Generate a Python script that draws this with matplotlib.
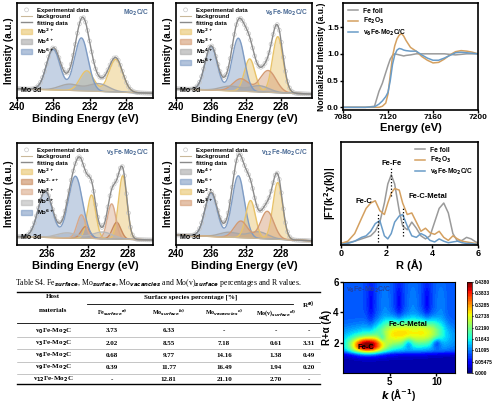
import numpy as np
import matplotlib
matplotlib.use("Agg")
import matplotlib.pyplot as plt

plt.rcParams['font.family'] = ['Liberation Sans', 'DejaVu Sans']
plt.rcParams['font.weight'] = 'bold'
plt.rcParams['axes.labelweight'] = 'bold'

# ---------------- data ----------------
xps_panels = [
    dict(name="Mo$_2$C/C", xlim=(240, 225), ticks=[240, 236, 232, 228],
         bg=(0.12, 0.06),
         comps=[("Mo$^{2+}$", "#e8c36a", [229.1, 232.3], [0.42, 0.26], 0.75),
                ("Mo$^{4+}$", "#a8a8a8", [231.0, 234.2], [0.10, 0.08], 1.1),
                ("Mo$^{6+}$", "#7f9cc4", [236.0, 232.9], [0.52, 0.68], 0.75)]),
    dict(name="v$_6$Fe-Mo$_2$C/C", xlim=(240, 224.5), ticks=[240, 236, 232, 228],
         bg=(0.12, 0.05),
         comps=[("Mo$^{2+}$", "#e8c36a", [228.4, 231.6], [0.72, 0.42], 0.6),
                ("Mo$^{3+}$", "#d39a72", [229.5, 232.6], [0.28, 0.16], 0.9),
                ("Mo$^{4+}$", "#a8a8a8", [230.5, 233.8], [0.08, 0.06], 1.1),
                ("Mo$^{6+}$", "#7f9cc4", [236.0, 232.9], [0.56, 0.68], 0.7)]),
    dict(name="v$_3$Fe-Mo$_2$C/C", xlim=(239, 225.5), ticks=[236, 232, 228],
         bg=(0.10, 0.06),
         comps=[("Mo$^{2+}$", "#e8c36a", [228.5, 231.6], [0.76, 0.52], 0.42),
                ("Mo$^{2.x+}$", "#c98a5c", [229.1, 232.2], [0.20, 0.14], 0.42),
                ("Mo$^{3+}$", "#d9a98a", [229.6, 232.6], [0.42, 0.28], 0.42),
                ("Mo$^{4+}$", "#b8b8b8", [230.5, 234.0], [0.08, 0.06], 1.0),
                ("Mo$^{6+}$", "#7f9cc4", [236.2, 233.2], [0.55, 0.74], 0.7)]),
    dict(name="v$_{12}$Fe-Mo$_2$C/C", xlim=(240, 224.5), ticks=[240, 236, 232, 228],
         bg=(0.12, 0.05),
         comps=[("Mo$^{4+}$", "#a8a8a8", [230.6, 233.9], [0.08, 0.06], 1.1),
                ("Mo$^{6+}$", "#7f9cc4", [236.0, 232.9], [0.52, 0.74], 0.7),
                ("Mo$^{2+}$", "#e8c36a", [228.4, 231.5], [0.68, 0.45], 0.55),
                ("Mo$^{3+}$", "#d39a72", [229.6, 232.6], [0.33, 0.20], 0.75)]),
]

xanes_E = [7080, 7100, 7108, 7112, 7115, 7118, 7120, 7122, 7124, 7126, 7128, 7130, 7132, 7134,
           7136, 7140, 7145, 7150, 7155, 7160, 7165, 7170, 7175, 7180, 7185, 7190, 7195, 7200]
xanes_foil = [0.0, 0.0, 0.02, 0.30, 0.45, 0.65, 0.78, 0.90, 0.97, 1.00, 0.99, 0.98, 0.97, 0.96,
              0.97, 0.98, 1.00, 1.00, 1.00, 1.00, 1.00, 1.00, 0.99, 0.98, 0.99, 1.00, 1.00, 1.00]
xanes_fe2o3 = [0.0, 0.0, 0.0, 0.0, 0.02, 0.08, 0.25, 0.60, 0.95, 1.15, 1.28, 1.35, 1.38, 1.33,
               1.25, 1.12, 1.05, 0.95, 0.88, 0.83, 0.84, 0.90, 0.98, 1.04, 1.06, 1.05, 1.03, 1.00]
xanes_fe = [0.0, 0.0, 0.01, 0.06, 0.12, 0.20, 0.28, 0.50, 0.80, 0.98, 1.07, 1.10, 1.09, 1.07,
            1.06, 1.05, 1.05, 0.98, 0.92, 0.88, 0.88, 0.92, 0.97, 1.02, 1.03, 1.02, 1.01, 1.00]

ft_R = [0.0, 0.3, 0.6, 0.9, 1.1, 1.3, 1.5, 1.7, 1.9, 2.05, 2.2, 2.35, 2.55, 2.7, 2.9, 3.1, 3.3,
        3.5, 3.7, 3.9, 4.1, 4.3, 4.5, 4.7, 4.9, 5.1, 5.3, 5.5, 5.7, 5.9, 6.0]
ft_foil = [0.02, 0.03, 0.05, 0.08, 0.10, 0.12, 0.18, 0.30, 0.55, 0.80, 0.92, 0.80, 0.45, 0.25,
           0.20, 0.30, 0.22, 0.12, 0.08, 0.12, 0.30, 0.48, 0.55, 0.42, 0.15, 0.05, 0.06, 0.10, 0.08, 0.04, 0.03]
ft_fe2o3 = [0.02, 0.05, 0.15, 0.35, 0.48, 0.55, 0.58, 0.45, 0.40, 0.55, 0.68, 0.74, 0.72, 0.55,
            0.40, 0.42, 0.30, 0.18, 0.22, 0.16, 0.14, 0.18, 0.10, 0.06, 0.12, 0.08, 0.05, 0.04, 0.03, 0.02, 0.02]
ft_fe = [0.01, 0.02, 0.05, 0.10, 0.12, 0.18, 0.28, 0.32, 0.12, 0.08, 0.15, 0.30, 0.38, 0.40,
         0.25, 0.12, 0.10, 0.15, 0.12, 0.06, 0.04, 0.08, 0.05, 0.03, 0.04, 0.05, 0.03, 0.02, 0.02, 0.01, 0.01]

# wavelet: Gaussian features (k, R, amplitude, width_k, width_R); negative amplitudes are dips
wt_blob_k = [2.6, 6.0, 9.0, 5.5, 4.2, 7.0, 10.0, 3.0, 6.0, 9.0, 4.5, 7.5, 10.5]
wt_blob_r = [1.8, 2.8, 2.8, 2.3, 2.3, 2.0, 2.0, 4.6, 4.6, 4.6, 4.6, 4.6, 4.6]
wt_blob_amp = [0.30, 0.13, 0.13, 0.10, -0.06, -0.07, -0.07, -0.035, -0.035, -0.035, 0.02, 0.02, 0.02]
wt_blob_sk = [1.2, 1.3, 1.1, 4.0, 0.35, 0.4, 0.4, 0.35, 0.35, 0.35, 0.4, 0.4, 0.4]
wt_blob_sr = [0.35, 0.55, 0.55, 0.6, 0.25, 0.25, 0.25, 1.2, 1.2, 1.2, 1.2, 1.2, 1.2]
cb_ticks = [0.000, 0.05475, 0.1095, 0.1643, 0.2190, 0.2738, 0.3285, 0.3833, 0.4380]

tbl_rows = ["v$_0$Fe-Mo$_2$C", "v$_3$Fe-Mo$_2$C", "v$_6$Fe-Mo$_2$C", "v$_9$Fe-Mo$_2$C", "v$_{12}$Fe-Mo$_2$C"]
tbl_fe = ["3.73", "2.02", "0.68", "0.39", "-"]
tbl_mo = ["6.33", "8.55", "9.77", "11.77", "12.81"]
tbl_vac = ["-", "7.18", "14.16", "16.49", "21.10"]
tbl_mov = ["-", "0.61", "1.38", "1.94", "2.70"]
tbl_R = ["-", "3.31", "0.49", "0.20", "-"]

# ---------------- figure ----------------
W, H = 500, 405
fig = plt.figure(figsize=(5, 4.05), dpi=100)


def ax_px(x0, y0, x1, y1):
    return fig.add_axes([x0 / W, 1 - y1 / H, (x1 - x0) / W, (y1 - y0) / H])


def gauss(x, c, h, w):
    return h * np.exp(-0.5 * ((x - c) / w) ** 2)


def xps(ax, p, show_ylabel=True):
    x = np.linspace(min(p['xlim']), max(p['xlim']), 400)
    b0, b1 = p['bg']
    bg = b1 + (b0 - b1) * (x - x.min()) / (x.max() - x.min())
    total = bg.copy()
    handles = []
    for lab, col, cs, hs, w in p['comps']:
        y = sum(gauss(x, c, h, w) for c, h in zip(cs, hs))
        total += y
        ax.fill_between(x, bg, bg + y, color=col, alpha=0.45, lw=0)
        ax.plot(x, bg + y, color=col, lw=1.0)
        handles.append(plt.Rectangle((0, 0), 1, 1, fc=col, ec=col, alpha=0.6, label=lab))
    xe = x[::6]
    te = total[::6]
    h1 = ax.scatter(xe, te, s=8, facecolors='none', edgecolors='#c8c8c8', lw=0.5, label='Experimental data')
    h2, = ax.plot(x, bg, color='#c9b89a', lw=0.8, label='background')
    h3, = ax.plot(x, total, color='#8a8a8a', lw=1.0, label='fitting data')
    ax.set_xlim(*p['xlim'])
    ax.set_ylim(0, 1.22)
    ax.set_yticks([])
    ax.set_xticks(p['ticks'])
    ax.tick_params(labelsize=7, width=1, length=2, pad=1)
    ax.set_xlabel("Binding Energy (eV)", fontsize=8, labelpad=1)
    if show_ylabel:
        ax.set_ylabel("Intensity (a.u.)", fontsize=7, labelpad=2)
    ax.legend(handles=[h1, h2, h3] + handles, loc='upper left', fontsize=4.3, frameon=False,
              handlelength=1.8, handleheight=0.9, labelspacing=0.15, borderpad=0.2)
    ax.text(0.97, 0.95, p['name'], transform=ax.transAxes, ha='right', va='top', fontsize=4.8, color='#4a6a95')
    ax.text(0.03, 0.04, "Mo 3d", transform=ax.transAxes, ha='left', va='bottom', fontsize=5)
    for s in ax.spines.values():
        s.set_linewidth(1.2)


xps(ax_px(17, 3, 153, 98), xps_panels[0])
xps(ax_px(176, 3, 312, 98), xps_panels[1])
xps(ax_px(17, 143, 153, 245), xps_panels[2])
xps(ax_px(176, 143, 312, 245), xps_panels[3])

# XANES
ax = ax_px(343, 3, 478, 110)
ax.plot(xanes_E, xanes_foil, color='#9a9a9a', lw=1.1, label='Fe foil')
ax.plot(xanes_E, xanes_fe2o3, color='#d4a060', lw=1.1, label='Fe$_2$O$_3$')
ax.plot(xanes_E, xanes_fe, color='#6a9cc8', lw=1.1, label='v$_6$Fe-Mo$_2$C/C')
ax.set_xlim(7080, 7200)
ax.set_ylim(-0.05, 1.95)
ax.set_xticks([7080, 7120, 7160, 7200])
ax.set_yticks([0.0, 0.5, 1.0, 1.5])
ax.tick_params(labelsize=6, width=1, length=2, pad=1)
ax.set_xlabel("Energy (eV)", fontsize=8, labelpad=1)
ax.set_ylabel("Normalized Intensity (a.u.)", fontsize=6.2, labelpad=1)
ax.legend(loc='upper left', fontsize=4.8, frameon=False, handlelength=1.5, labelspacing=0.2, borderpad=0.2)
for s in ax.spines.values():
    s.set_linewidth(1.2)

# FT-EXAFS
ax = ax_px(341, 142, 478, 245)
ax.plot(ft_R, ft_foil, color='#9a9a9a', lw=1.1, label='Fe foil')
ax.plot(ft_R, ft_fe2o3, color='#d4a060', lw=1.1, label='Fe$_2$O$_3$')
ax.plot(ft_R, ft_fe, color='#6a9cc8', lw=1.1, label='v$_6$Fe-Mo$_2$C/C')
for rx, ry in [(2.2, 0.92), (1.6, 0.32), (2.7, 0.40)]:
    ax.plot([rx, rx], [ry - 0.28, ry + 0.1], ls=':', color='k', lw=0.9)
ax.text(2.2, 1.05, "Fe-Fe", ha='center', fontsize=5.5)
ax.text(1.0, 0.55, "Fe-C", ha='center', fontsize=5.5)
ax.text(3.8, 0.62, "Fe-C-Metal", ha='center', fontsize=5.5)
ax.set_xlim(0, 6)
ax.set_ylim(0, 1.35)
ax.set_yticks([])
ax.set_xticks([0, 2, 4, 6])
ax.tick_params(labelsize=6.5, width=1, length=2, pad=1)
ax.set_xlabel("R (Å)", fontsize=8, labelpad=1)
ax.set_ylabel("|FT(k$^2$χ(k))|", fontsize=7, labelpad=2)
ax.legend(loc='upper right', fontsize=4.8, frameon=False, handlelength=1.5, labelspacing=0.2, borderpad=0.2)
for s in ax.spines.values():
    s.set_linewidth(1.2)

# Wavelet
ax = ax_px(343, 282, 455, 373)
kk, rr = np.meshgrid(np.linspace(0, 12, 240), np.linspace(0, 6, 180))
Z = 0.075 / (1 + np.exp(-(rr - 1.35) / 0.08)) + 0.015
for k0, r0, a, sk, sr in zip(wt_blob_k, wt_blob_r, wt_blob_amp, wt_blob_sk, wt_blob_sr):
    Z += a * np.exp(-0.5 * (((kk - k0) / sk) ** 2 + ((rr - r0) / sr) ** 2))
Z = np.clip(Z, 0, 0.438)
cf = ax.contourf(kk, rr, Z, levels=np.linspace(0, 0.438, 60), cmap='jet')
ax.text(2.5, 1.7, "Fe-C", fontsize=5.5, ha='center', va='center')
ax.text(7.0, 3.2, "Fe-C-Metal", fontsize=5.5, ha='center', va='center')
ax.text(0.3, 5.8, "v$_6$Fe-Mo$_2$C/C", fontsize=5, va='top', color='#2040a0')
ax.set_xlim(0, 12)
ax.set_ylim(0, 6)
ax.set_xticks([5, 10])
ax.set_yticks([2, 4, 6])
ax.tick_params(labelsize=7, width=1, length=2, pad=1)
ax.set_xlabel("$k$ (Å$^{-1}$)", fontsize=7, labelpad=0)
ax.set_ylabel("R+α (Å)", fontsize=7, labelpad=1)
cax = ax_px(467, 282, 472, 373)
cb = fig.colorbar(cf, cax=cax, ticks=cb_ticks)
cb.ax.tick_params(labelsize=3.5, length=1, pad=1)
cb.ax.set_yticklabels(["0.000", "0.05475", "0.1095", "0.1643", "0.2190", "0.2738", "0.3285", "0.3833", "0.4380"])
cb.outline.set_linewidth(0.5)

# Table
tax = ax_px(15, 280, 322, 380)
tax.set_xlim(0, 320)
tax.set_ylim(100, 0)
tax.axis('off')
serif = ['Liberation Serif', 'DejaVu Serif']
tax.text(0, 3, "Table S4. Fe$_{surface}$, Mo$_{surface}$, Mo$_{vacancies}$ and Mo(v)$_{surface}$ percentages and R values.",
         fontsize=5.6, family=serif, va='center', weight='normal')
tax.plot([2, 318], [12, 12], color='k', lw=1.0)
tax.plot([75, 290], [24, 24], color='k', lw=0.6)
tax.plot([2, 318], [43, 43], color='k', lw=0.6)
tax.plot([2, 318], [104, 104], color='k', lw=1.0, clip_on=False)
cols = [40, 101, 160, 218, 272, 306]
tax.text(40, 17, "Host", fontsize=5, family=serif, ha='center', va='center')
tax.text(40, 31, "materials", fontsize=5, family=serif, ha='center', va='center')
tax.text(183, 17, "Surface species percentage [%]", fontsize=5, family=serif, ha='center', va='center')
tax.text(306, 25, "R$^{e)}$", fontsize=5, family=serif, ha='center', va='center')
for c, t in zip(cols[1:5], ["Fe$_{surface}$$^{a)}$", "Mo$_{surface}$$^{b)}$", "Mo$_{vacancies}$$^{c)}$", "Mo(v)$_{surface}$$^{d)}$"]):
    tax.text(c, 33, t, fontsize=4.3, family=serif, ha='center', va='center')
for i, vals in enumerate(zip(tbl_rows, tbl_fe, tbl_mo, tbl_vac, tbl_mov, tbl_R)):
    y = 51 + i * 12.2
    for c, v in zip(cols, vals):
        tax.text(c, y, v, fontsize=5, family=serif, ha='center', va='center')
    if i < 4:
        tax.plot([2, 318], [y + 6.1, y + 6.1], color='#999999', lw=0.4)

fig.savefig("out.png", dpi=100)
